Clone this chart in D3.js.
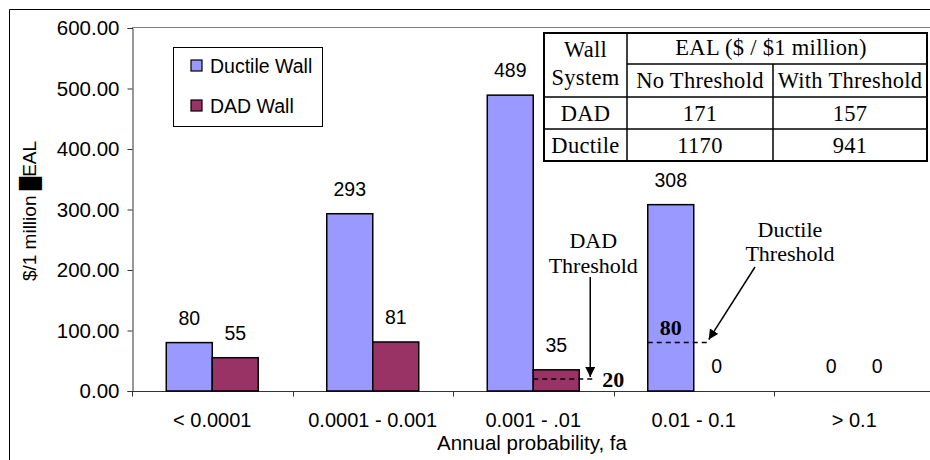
<!DOCTYPE html>
<html>
<head>
<meta charset="utf-8">
<title>EAL by annual probability</title>
<script src="https://d3js.org/d3.v7.min.js"></script>
<style>
  body { margin: 0; background: #fff; }
  svg { display: block; }
  .sans { font-family: "Liberation Sans", Arial, sans-serif; }
  .serif { font-family: "Liberation Serif", "Times New Roman", serif; }
</style>
</head>
<body>
<script>
// data
var categories = ["< 0.0001", "0.0001 - 0.001", "0.001 - .01", "0.01 - 0.1", "> 0.1"];
var ductile = [80, 293, 489, 308, 0];
var dad = [55, 81, 35, 0, 0];
var seriesNames = ["Ductile Wall", "DAD Wall"];
var seriesColors = ["#9999ff", "#993366"];
var yTicks = [0, 100, 200, 300, 400, 500, 600];

// threshold annotations
var dadThreshold = { cat: "0.001 - .01", value: 20 };
var ductileThreshold = { cat: "0.01 - 0.1", value: 80 };

// inset table
var tableHeader = ["No Threshold", "With Threshold"];
var tableRows = ["DAD", "Ductile"];
var tableNoThr = [171, 1170];
var tableWithThr = [157, 941];

var width = 930, height = 460;
var svg = d3.select("body").append("svg")
  .attr("width", width)
  .attr("height", height);

// outer chart border
svg.append("path")
  .attr("d", "M9.5," + height + "V9.5H" + width)
  .attr("fill", "none")
  .attr("stroke", "#000");

var x = d3.scaleBand()
  .domain(categories)
  .range([132, 934.5]);

var xs = d3.scaleBand()
  .domain([0, 1])
  .range([0, x.bandwidth()])
  .paddingOuter(0.745);

var y = d3.scaleLinear()
  .domain([0, 600])
  .range([391, 28]);

// plot area top line
svg.append("line")
  .attr("x1", 132).attr("x2", width)
  .attr("y1", 27.5).attr("y2", 27.5)
  .attr("stroke", "#808080");

// y axis
var yAxis = d3.axisLeft(y)
  .tickValues(yTicks)
  .tickFormat(d3.format(".2f"))
  .tickSize(5)
  .tickPadding(8);

var gy = svg.append("g")
  .attr("class", "sans")
  .attr("transform", "translate(132.5,0)")
  .call(yAxis);
gy.selectAll("text").attr("font-size", 20.5).attr("fill", "#000");
gy.selectAll("line, path").attr("stroke", "#333");

// x axis with ticks on category boundaries
var gx = svg.append("g").attr("transform", "translate(0,391.5)");
gx.append("line")
  .attr("x1", 132).attr("x2", width)
  .attr("stroke", "#333");
gx.selectAll(".bt")
  .data(categories)
  .enter().append("line")
  .attr("x1", function(d) { return Math.round(x(d)) + 0.5; })
  .attr("x2", function(d) { return Math.round(x(d)) + 0.5; })
  .attr("y1", 0).attr("y2", 5)
  .attr("stroke", "#333");
gx.selectAll(".lab")
  .data(categories)
  .enter().append("text")
  .attr("class", "sans")
  .attr("x", function(d) { return x(d) + x.bandwidth() / 2; })
  .attr("y", 35)
  .attr("text-anchor", "middle")
  .attr("font-size", 20)
  .text(function(d) { return d; });

// axis titles
svg.append("text")
  .attr("class", "sans")
  .attr("x", 532).attr("y", 450)
  .attr("text-anchor", "middle")
  .attr("font-size", 20.5)
  .text("Annual probability, fa");

svg.append("text")
  .attr("class", "sans")
  .attr("transform", "translate(36,211) rotate(-90)")
  .attr("text-anchor", "middle")
  .attr("font-size", 19)
  .text("$/1 million \u2588EAL");

// bars
var series = [ductile, dad];
series.forEach(function(vals, si) {
  var g = svg.append("g");
  g.selectAll("rect")
    .data(vals)
    .enter().append("rect")
    .attr("x", function(d, i) { return x(categories[i]) + xs(si); })
    .attr("y", function(d) { return y(d); })
    .attr("width", xs.bandwidth())
    .attr("height", function(d) { return y(0) - y(d); })
    .attr("fill", seriesColors[si])
    .attr("stroke", "#000")
    .attr("stroke-width", 1.5)
    .style("display", function(d) { return d > 0 ? null : "none"; });

  g.selectAll("text")
    .data(vals)
    .enter().append("text")
    .attr("class", "sans")
    .attr("x", function(d, i) { return x(categories[i]) + xs(si) + xs.bandwidth() / 2; })
    .attr("y", function(d) { return y(d) - 18; })
    .attr("text-anchor", "middle")
    .attr("font-size", 19.5)
    .text(function(d) { return d; });
});

// arrow marker
svg.append("defs").append("marker")
  .attr("id", "arr")
  .attr("viewBox", "0 0 10 10")
  .attr("refX", 10).attr("refY", 5)
  .attr("markerWidth", 10).attr("markerHeight", 10)
  .attr("markerUnits", "userSpaceOnUse")
  .attr("orient", "auto")
  .append("path")
  .attr("d", "M0,0L10,5L0,10Z")
  .attr("fill", "#000");

function barLeft(cat, si) { return x(cat) + xs(si); }

// DAD threshold
var dL = barLeft(dadThreshold.cat, 1), dR = dL + xs.bandwidth() + 16, dY = y(dadThreshold.value);
svg.append("line")
  .attr("x1", dL).attr("x2", dR).attr("y1", dY).attr("y2", dY)
  .attr("stroke", "#000").attr("stroke-width", 1.5)
  .attr("stroke-dasharray", "5,4");
svg.append("line")
  .attr("x1", dR - 5).attr("x2", dR - 5).attr("y1", 277).attr("y2", dY - 2)
  .attr("stroke", "#000").attr("stroke-width", 1.5)
  .attr("marker-end", "url(#arr)");
svg.append("text")
  .attr("class", "serif")
  .attr("x", dR + 7).attr("y", dY + 8)
  .attr("font-size", 22).attr("font-weight", "bold")
  .text(dadThreshold.value);
svg.append("text")
  .attr("class", "serif")
  .attr("x", dR - 2).attr("text-anchor", "middle")
  .attr("font-size", 22)
  .selectAll("tspan")
  .data(["DAD", "Threshold"])
  .enter().append("tspan")
  .attr("x", dR - 2)
  .attr("y", function(d, i) { return 248 + i * 25; })
  .text(function(d) { return d; });

// Ductile threshold
var uL = barLeft(ductileThreshold.cat, 0), uR = uL + xs.bandwidth() + 14, uY = y(ductileThreshold.value);
svg.append("line")
  .attr("x1", uL).attr("x2", uR).attr("y1", uY).attr("y2", uY)
  .attr("stroke", "#000").attr("stroke-width", 1.5)
  .attr("stroke-dasharray", "5,4");
svg.append("line")
  .attr("x1", 755).attr("x2", uR + 1).attr("y1", 267).attr("y2", uY - 3)
  .attr("stroke", "#000").attr("stroke-width", 1.5)
  .attr("marker-end", "url(#arr)");
svg.append("text")
  .attr("class", "serif")
  .attr("x", uL + xs.bandwidth() / 2).attr("y", uY - 8)
  .attr("text-anchor", "middle")
  .attr("font-size", 22).attr("font-weight", "bold")
  .text(ductileThreshold.value);
svg.append("text")
  .attr("class", "serif")
  .attr("text-anchor", "middle")
  .attr("font-size", 22)
  .selectAll("tspan")
  .data(["Ductile", "Threshold"])
  .enter().append("tspan")
  .attr("x", 790)
  .attr("y", function(d, i) { return 237 + i * 24; })
  .text(function(d) { return d; });

// legend
var legend = svg.append("g").attr("class", "sans");
legend.append("rect")
  .attr("x", 173.5).attr("y", 47.5)
  .attr("width", 149).attr("height", 79)
  .attr("fill", "#fff").attr("stroke", "#000");
var li = legend.selectAll(".item")
  .data(seriesNames)
  .enter().append("g")
  .attr("transform", function(d, i) { return "translate(0," + (65.5 + i * 40) + ")"; });
li.append("rect")
  .attr("x", 191).attr("y", -5.5)
  .attr("width", 11).attr("height", 11)
  .attr("fill", function(d, i) { return seriesColors[i]; })
  .attr("stroke", "#000").attr("stroke-width", 1.2);
li.append("text")
  .attr("x", 210).attr("y", 7)
  .attr("font-size", 19.5)
  .text(function(d) { return d; });

// inset table
var colX = [544, 627, 773, 927];
var rowY = [33, 64, 97, 129, 161];
var tb = svg.append("g").attr("class", "serif");
tb.append("rect")
  .attr("x", colX[0]).attr("y", rowY[0])
  .attr("width", colX[3] - colX[0]).attr("height", rowY[4] - rowY[0])
  .attr("fill", "#fff").attr("stroke", "#000").attr("stroke-width", 2);
var tlines = [
  [colX[1], rowY[0], colX[1], rowY[4]],
  [colX[2], rowY[1], colX[2], rowY[4]],
  [colX[1], rowY[1], colX[3], rowY[1]],
  [colX[0], rowY[2], colX[3], rowY[2]],
  [colX[0], rowY[3], colX[3], rowY[3]]
];
tb.selectAll(".tl")
  .data(tlines)
  .enter().append("line")
  .attr("x1", function(d) { return d[0]; }).attr("y1", function(d) { return d[1]; })
  .attr("x2", function(d) { return d[2]; }).attr("y2", function(d) { return d[3]; })
  .attr("stroke", "#000").attr("stroke-width", 1.5);

function cell(txt, cx, by) {
  tb.append("text")
    .attr("x", cx).attr("y", by)
    .attr("text-anchor", "middle")
    .attr("font-size", 22.5)
    .attr("letter-spacing", "0.3px")
    .text(txt);
}
cell("Wall", (colX[0] + colX[1]) / 2, 57);
cell("System", (colX[0] + colX[1]) / 2, 85);
cell("EAL ($ / $1 million)", (colX[1] + colX[3]) / 2 - 6, 55);
tableHeader.forEach(function(h, i) { cell(h, (colX[i + 1] + colX[i + 2]) / 2, 88); });
tableRows.forEach(function(r, i) {
  var by = (rowY[i + 2] + rowY[i + 3]) / 2 + 8;
  cell(r, (colX[0] + colX[1]) / 2, by);
  cell(tableNoThr[i], (colX[1] + colX[2]) / 2, by);
  cell(tableWithThr[i], (colX[2] + colX[3]) / 2, by);
});
</script>
</body>
</html>
